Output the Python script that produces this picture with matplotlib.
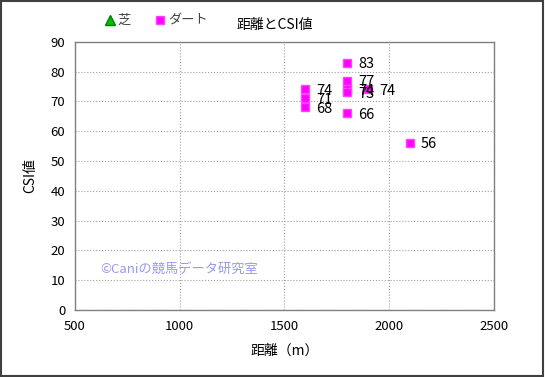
import matplotlib.pyplot as plt
from matplotlib.patches import Rectangle

plt.rcParams['font.family'] = ['Noto Sans CJK JP', 'DejaVu Sans']

# 芝 has no races in this set
turf_dist = []
turf_csi = []

dirt_dist = [1600, 1600, 1600, 1800, 1800, 1800, 1800, 1800, 1900, 2100]
dirt_csi = [74, 71, 68, 83, 77, 74, 73, 66, 74, 56]

x_ticks = [500, 1000, 1500, 2000, 2500]
y_ticks = list(range(0, 91, 10))

fig = plt.figure(figsize=(5.45, 3.77), dpi=100)
ax = fig.add_axes([0.1376, 0.178, 0.7684, 0.711])

ax.plot(turf_dist, turf_csi, linestyle='none', marker='^', color='#00c000',
        markeredgecolor='#008000', markersize=7, label='芝')
ax.plot(dirt_dist, dirt_csi, linestyle='none', marker='s', color='#ff00ff',
        markeredgecolor='#ff44ff', markersize=6, label='ダート')

for x, y in zip(dirt_dist, dirt_csi):
    ax.annotate(str(y), (x, y), xytext=(8, -1), textcoords='offset points',
                fontsize=10.5, va='center', ha='left')

ax.set_xlim(500, 2500)
ax.set_ylim(0, 90)
ax.set_xticks(x_ticks)
ax.set_yticks(y_ticks)
ax.tick_params(length=0, labelsize=9.5, pad=7)
ax.grid(True, color='#a0a0a0', linestyle=':', linewidth=0.8)
for s in ax.spines.values():
    s.set_color('#808080')
    s.set_linewidth(1)

ax.set_xlabel('距離（m）', fontsize=10, labelpad=8)
ax.set_ylabel('CSI値', fontsize=10, labelpad=10)

fig.text(0.505, 0.935, '距離とCSI値', fontsize=10, ha='center', va='center')
ax.text(0.06, 0.15, '©Caniの競馬データ研究室', transform=ax.transAxes,
        fontsize=9.5, color='#9999ee', va='center', ha='left')

fig.legend(loc='center left', bbox_to_anchor=(0.165, 0.945), ncol=2, frameon=False,
           fontsize=9.5, handletextpad=0.0, columnspacing=1.6, handlelength=1.2,
           labelcolor='#404040')

fig.patches.append(Rectangle((0.002, 0.003), 0.995, 0.994, transform=fig.transFigure,
                             fill=False, edgecolor='#404040', linewidth=1.5))

plt.savefig('out.png', dpi=100)
